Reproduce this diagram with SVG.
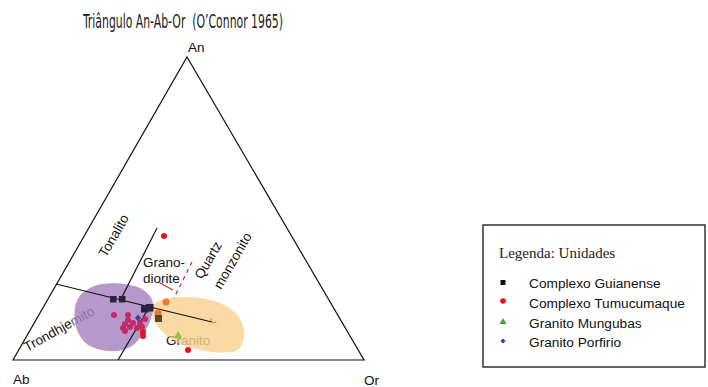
<svg xmlns="http://www.w3.org/2000/svg" width="708" height="387" viewBox="0 0 708 387">
<style>
.lbl{font-family:"Liberation Sans",Arial,sans-serif;font-size:13.5px;fill:#111}
.leg{font-family:"Liberation Sans",Arial,sans-serif;font-size:13.7px;fill:#111}
.ln{stroke:#111;stroke-width:1.2;fill:none}
.sq{fill:#2c2140}
.mg{fill:#c42a6a}
.rd{fill:#e8131c}
.or{fill:#f0782a}
</style>
<rect width="708" height="387" fill="#fff"/>
<text x="83" y="28" xml:space="preserve" font-family="'DejaVu Sans Condensed','Liberation Sans',sans-serif" font-size="19.5" fill="#1a1a1a" textLength="200" lengthAdjust="spacingAndGlyphs">Triângulo An-Ab-Or  (O’Connor 1965)</text>

<g id="triangle">
<path d="M13,360 L364,360 L187,57 Z" class="ln" stroke-linejoin="miter"/>
<text class="lbl" x="188" y="52">An</text>
<text class="lbl" x="13" y="384" font-size="14">Ab</text>
<text class="lbl" x="364" y="385">Or</text>
</g>

<g id="field-labels">
<text class="lbl" transform="translate(27,352) rotate(-29)">Trondhje<tspan fill="#7a5f8e">mito</tspan></text>
<text class="lbl" transform="translate(106,258) rotate(-60)" font-size="14">Tonalito</text>
<text class="lbl" x="143" y="267">Grano-</text>
<text class="lbl" x="143" y="283">diorite</text>
<text class="lbl" transform="translate(202,280) rotate(-60)">Quartz</text>
<text class="lbl" transform="translate(221,290) rotate(-60)">monzonito</text>
<text class="lbl" x="166" y="345">Gr<tspan fill="#7d7d7d">anito</tspan></text>
</g>

<g id="fields">
<path id="purple" d="M87,290 C98,281 125,282 140,288 C152,294 156,304 152,315 C150,325 142,338 132,346 C120,354 100,352 88,345 C76,336 73,320 75,307 C77,298 81,293 87,290 Z" fill="#9a72b5" opacity="0.72"/>
<path id="orange" d="M152,313 C150,302 162,296 190,297 C212,298 230,305 238,316 C246,326 247,345 236,351 C222,355 198,351 180,344 C166,337 153,325 152,313 Z" fill="#f9c77a" opacity="0.68"/>
</g>

<g id="connectors">
<line x1="56" y1="284" x2="150" y2="307" class="ln" stroke="#1a1a1a"/>
<line x1="150" y1="307" x2="212" y2="322" class="ln" stroke="#6e6a66"/>
<path d="M211,318 L212,323 L216,322" fill="none" stroke="#f07a2a" stroke-width="1"/>
<line x1="122" y1="297" x2="157" y2="228" class="ln"/>
<line x1="118" y1="360" x2="148" y2="309" class="ln"/>
<line x1="192" y1="262" x2="174" y2="298" stroke="#d8262b" stroke-width="1.2" stroke-dasharray="4,4"/>
<line x1="160" y1="283" x2="173" y2="290" stroke="#d8262b" stroke-width="1.2"/>
</g>

<g id="points">
<circle class="rd" cx="164" cy="236" r="3"/>
<circle class="rd" cx="188" cy="350" r="3"/>
<circle class="rd" cx="143" cy="332" r="3"/>
<circle class="rd" cx="143" cy="336" r="3"/>
<circle class="mg" cx="114" cy="315" r="3"/>
<circle class="mg" cx="128" cy="315" r="3"/>
<circle class="mg" cx="128" cy="320" r="3"/>
<circle class="mg" cx="125" cy="324" r="3"/>
<circle class="mg" cx="133" cy="323" r="3"/>
<circle class="mg" cx="130" cy="327" r="3"/>
<circle class="mg" cx="123" cy="328" r="3"/>
<circle class="mg" cx="125" cy="331" r="3"/>
<circle class="mg" cx="137" cy="328" r="3"/>
<circle class="mg" cx="140" cy="323" r="3"/>
<circle class="mg" cx="145" cy="319" r="3"/>
<circle class="mg" cx="142" cy="327" r="3"/>
<circle class="or" cx="166" cy="302" r="3.5"/>
<circle class="or" cx="158" cy="313" r="3.5"/>
<rect class="sq" x="110" y="296" width="6.5" height="6.5"/>
<rect class="sq" x="119" y="296" width="6.5" height="6.5"/>
<rect class="sq" x="141" y="305" width="7.5" height="7.5"/>
<rect class="sq" x="146" y="304" width="7.5" height="7.5"/>
<rect x="155" y="315" width="7" height="7" fill="#5a4331"/>
<path d="M138,314.5 L141,318 L138,321.5 L135,318 Z" fill="#4a3aa2"/>
<path d="M178,331 L182,338 L174,338 Z" fill="#8cc43c"/>
</g>

<g id="legend">
<rect x="483" y="225" width="222" height="142" fill="#fff" stroke="#333" stroke-width="1.5"/>
<text x="499" y="258" font-family="'Liberation Serif','Times New Roman',serif" font-size="15" fill="#222">Legenda: Unidades</text>
<rect x="500.5" y="280" width="5" height="5" fill="#111"/>
<text class="leg" x="529" y="288">Complexo Guianense</text>
<circle cx="503" cy="301" r="2.8" fill="#e8131c"/>
<text class="leg" x="529" y="308">Complexo Tumucumaque</text>
<path d="M503,318 L506.5,324 L499.5,324 Z" fill="#3aa33a"/>
<text class="leg" x="529" y="327.5">Granito Mungubas</text>
<path d="M503,338.5 L505.5,341 L503,343.5 L500.5,341 Z" fill="#2a3fa0"/>
<text class="leg" x="529" y="347">Granito Porfirio</text>
</g>
</svg>
